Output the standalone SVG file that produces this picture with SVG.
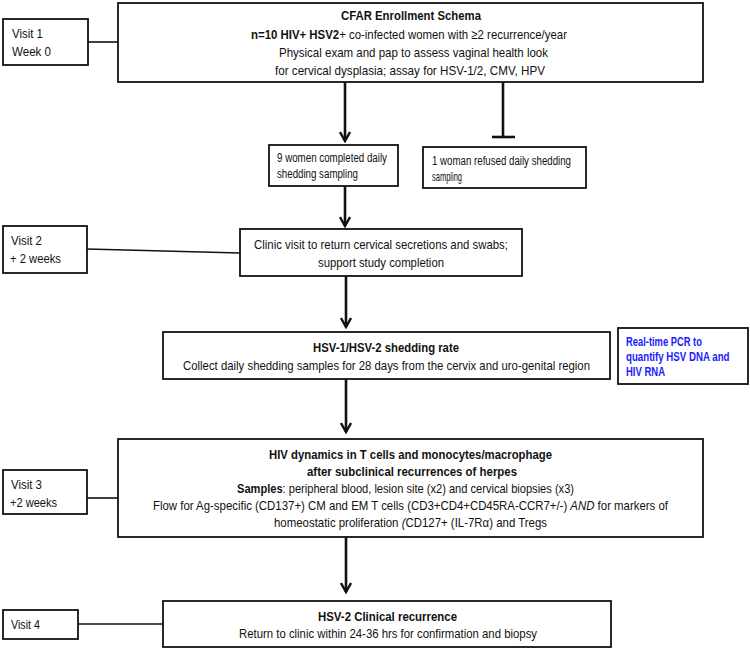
<svg xmlns="http://www.w3.org/2000/svg" width="750" height="649" viewBox="0 0 750 649">
<style>
text{font-family:"Liberation Sans",Arial,sans-serif;font-size:13.5px;fill:#111}
.box{fill:#fff;stroke:#111;stroke-width:1.8}
.b{font-weight:bold}
.s{font-size:12px}
.hv{font-size:13px}
.blue{fill:#1a1aff;font-weight:bold;font-size:12.5px}
.ln{stroke:#111;stroke-width:1.6;fill:none}
.ar{stroke:#111;stroke-width:2.6;fill:none}
</style>
<defs>
<marker id="ah" viewBox="0 0 12 12" refX="10" refY="6" markerWidth="12" markerHeight="12" markerUnits="userSpaceOnUse" orient="auto">
<path d="M1,1 L10,6 L1,11" fill="none" stroke="#111" stroke-width="2.4"/>
</marker>
</defs>
<rect width="750" height="649" fill="#fff"/>
<g id="connectors">
<line class="ln" x1="88" y1="42" x2="118" y2="42"/>
<line class="ar" x1="345" y1="82" x2="345" y2="141" marker-end="url(#ah)"/>
<line class="ar" x1="503" y1="82" x2="503" y2="137"/>
<line class="ar" x1="492" y1="137" x2="515" y2="137"/>
<line class="ar" x1="345" y1="186" x2="345" y2="226" marker-end="url(#ah)"/>
<line class="ln" x1="87" y1="249" x2="240" y2="253"/>
<line class="ar" x1="346" y1="276" x2="346" y2="327" marker-end="url(#ah)"/>
<line class="ar" x1="346" y1="379" x2="346" y2="432" marker-end="url(#ah)"/>
<line class="ln" x1="87" y1="498" x2="118" y2="498"/>
<line class="ar" x1="346" y1="537" x2="346" y2="592" marker-end="url(#ah)"/>
<line class="ln" x1="78" y1="624" x2="163" y2="624"/>
</g>
<g id="visit1">
<rect class="box" x="3" y="19" width="85" height="46"/>
<text x="12" y="38" textLength="31" lengthAdjust="spacingAndGlyphs">Visit 1</text>
<text x="12" y="56" textLength="39" lengthAdjust="spacingAndGlyphs">Week 0</text>
</g>
<g id="enrollment">
<rect class="box" x="118" y="3" width="585" height="79"/>
<text class="b" x="341" y="20" textLength="140" lengthAdjust="spacingAndGlyphs">CFAR Enrollment Schema</text>
<text x="251" y="39" textLength="316" lengthAdjust="spacingAndGlyphs"><tspan class="b">n=10 HIV+ HSV2</tspan>+ co-infected women with ≥2 recurrence/year</text>
<text x="279" y="57" textLength="269" lengthAdjust="spacingAndGlyphs">Physical exam and pap to assess vaginal health look</text>
<text x="275" y="75" textLength="270" lengthAdjust="spacingAndGlyphs">for cervical dysplasia; assay for HSV-1/2, CMV, HPV</text>
</g>
<g id="completed">
<rect class="box" x="269" y="145" width="129" height="41"/>
<text class="s" x="277" y="162" textLength="110" lengthAdjust="spacingAndGlyphs">9 women completed daily</text>
<text class="s" x="277" y="178" textLength="81" lengthAdjust="spacingAndGlyphs">shedding sampling</text>
</g>
<g id="refused">
<rect class="box" x="423" y="147" width="163" height="41"/>
<text class="s" x="432" y="165" textLength="139" lengthAdjust="spacingAndGlyphs">1 woman refused daily shedding</text>
<text class="s" x="432" y="181" textLength="30" lengthAdjust="spacingAndGlyphs">sampling</text>
</g>
<g id="visit2">
<rect class="box" x="3" y="226" width="84" height="47"/>
<text x="11" y="245" textLength="31" lengthAdjust="spacingAndGlyphs">Visit 2</text>
<text x="10" y="263" textLength="51" lengthAdjust="spacingAndGlyphs">+ 2 weeks</text>
</g>
<g id="clinic">
<rect class="box" x="240" y="229" width="282" height="47"/>
<text x="254" y="249" textLength="254" lengthAdjust="spacingAndGlyphs">Clinic visit to return cervical secretions and swabs;</text>
<text x="318" y="267" textLength="126" lengthAdjust="spacingAndGlyphs">support study completion</text>
</g>
<g id="shedding">
<rect class="box" x="163" y="332" width="447" height="47"/>
<text class="b" x="313" y="352" textLength="146" lengthAdjust="spacingAndGlyphs">HSV-1/HSV-2 shedding rate</text>
<text x="183" y="370" textLength="407" lengthAdjust="spacingAndGlyphs">Collect daily shedding samples for 28 days from the cervix and uro-genital region</text>
</g>
<g id="pcr">
<rect class="box" x="618" y="328" width="130" height="56"/>
<text class="blue" transform="translate(626,346) scale(0.75,1)">Real-time PCR to</text>
<text class="blue" transform="translate(626,361) scale(0.776,1)">quantify HSV DNA and</text>
<text class="blue" transform="translate(626,376) scale(0.76,1)">HIV RNA</text>
</g>
<g id="visit3">
<rect class="box" x="3" y="470" width="84" height="44"/>
<text x="11" y="489" textLength="31" lengthAdjust="spacingAndGlyphs">Visit 3</text>
<text x="10" y="507" textLength="47" lengthAdjust="spacingAndGlyphs">+2 weeks</text>
</g>
<g id="dynamics">
<rect class="box" x="118" y="439" width="585" height="98"/>
<text class="b hv" x="269" y="459" textLength="283" lengthAdjust="spacingAndGlyphs">HIV dynamics in T cells and monocytes/macrophage</text>
<text class="b hv" x="307" y="476" textLength="210" lengthAdjust="spacingAndGlyphs">after subclinical recurrences of herpes</text>
<text class="hv" x="237" y="493" textLength="337" lengthAdjust="spacingAndGlyphs"><tspan class="b">Samples</tspan>: peripheral blood, lesion site (x2) and cervical biopsies (x3)</text>
<text class="hv" x="153" y="510" textLength="515" lengthAdjust="spacingAndGlyphs">Flow for Ag-specific (CD137+) CM and EM T cells (CD3+CD4+CD45RA-CCR7+/-) <tspan font-style="italic">AND</tspan> for markers of</text>
<text class="hv" x="274" y="527" textLength="273" lengthAdjust="spacingAndGlyphs">homeostatic proliferation <tspan font-style="italic">(</tspan>CD127+ (IL-7Rα) and Tregs</text>
</g>
<g id="visit4">
<rect class="box" x="3" y="610" width="75" height="29"/>
<text x="11" y="629" textLength="29" lengthAdjust="spacingAndGlyphs">Visit 4</text>
</g>
<g id="recurrence">
<rect class="box" x="163" y="601" width="448" height="46"/>
<text class="b" x="318" y="621" textLength="139" lengthAdjust="spacingAndGlyphs">HSV-2 Clinical recurrence</text>
<text x="239" y="638" textLength="298" lengthAdjust="spacingAndGlyphs">Return to clinic within 24-36 hrs for confirmation and biopsy</text>
</g>
</svg>
